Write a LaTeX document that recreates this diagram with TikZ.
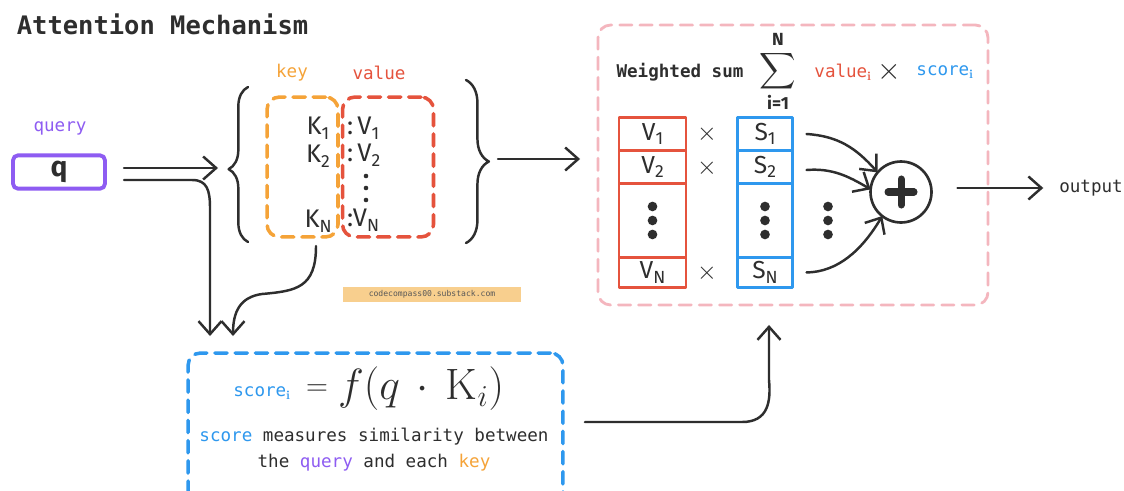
\documentclass[tikz,border=0pt]{standalone}
\usepackage{amsmath}
\usepackage{fontspec}
\setmonofont{DejaVu Sans Mono}
\newfontfamily\handfont{Fira Sans}
\usetikzlibrary{arrows.meta,positioning,calc,decorations.pathreplacing}

\definecolor{qpurple}{HTML}{8E5CF2}
\definecolor{kyorange}{HTML}{F5A338}
\definecolor{valred}{HTML}{E5533D}
\definecolor{scblue}{HTML}{2E98EE}
\definecolor{pnlpink}{HTML}{F4B6BE}
\definecolor{inkgray}{HTML}{2E2E2E}
\definecolor{markfill}{HTML}{F8CF8E}

\newcommand{\hsub}[2]{#1\raisebox{-0.35ex}{\fontsize{10}{12}\selectfont #2}}

\begin{document}
\begin{tikzpicture}[x=0.02cm,y=-0.02cm, line cap=round, line join=round,
                    every node/.style={outer sep=0pt}]

  \tikzset{
    lbl/.style={font=\ttfamily\fontsize{10}{12}\selectfont, inner sep=0pt},
    hand/.style={font=\handfont\fontsize{14.5}{16}\selectfont, inner sep=0pt, text=inkgray},
    ink/.style={line width=1.4pt, draw=inkgray},
    arr/.style={ink, -{Straight Barb[length=2.6mm,width=4.6mm,line width=1.4pt]}},
    dashbox/.style={rounded corners=2.5mm, line width=2pt, dash pattern=on 7pt off 4.5pt},
    vcell/.style={draw=valred, line width=1.3pt, minimum width=1.34cm, inner sep=0pt,
                  font=\handfont\fontsize{14}{16}\selectfont, text=inkgray},
    scell/.style={vcell, draw=scblue, minimum width=1.1cm},
    bigdot/.style={circle, fill=inkgray, minimum size=5.5pt, inner sep=0pt},
    times/.style={font=\handfont\fontsize{14}{16}\selectfont, inner sep=0pt, text=inkgray},
    limit/.style={font=\handfont\bfseries\fontsize{10}{12}\selectfont, inner sep=0pt, text=inkgray}
  }

  \clip (0,0) rectangle (1124,490);
  \fill[white] (0,0) rectangle (1124,490);

  % title
  \node[anchor=west, font=\ttfamily\bfseries\fontsize{14.5}{18}\selectfont, text=inkgray]
    (title) at (11,24) {Attention Mechanism};

  % query
  \node[lbl, text=qpurple] (qlabel) at (60,128) {query};
  \node[draw=qpurple, line width=2.2pt, rounded corners=1mm, minimum width=1.84cm,
        minimum height=0.64cm, font=\handfont\bfseries\fontsize{16}{18}\selectfont,
        text=inkgray] (qbox) at (59,172) {q};

  % key / value dictionary
  \node[lbl, text=kyorange] (keylbl) at (292,73) {key};
  \node[lbl, text=valred] (vallbl) at (379,73) {value};
  \node[dashbox, draw=kyorange, minimum width=1.42cm, minimum height=2.8cm] (keybox) at (302.5,167) {};
  \node[dashbox, draw=valred, minimum width=1.82cm, minimum height=2.8cm] (valbox) at (388,167) {};

  \node[hand] (k1) at (318,128) {\hsub{K}{1}};
  \node[hand] (k2) at (318,156) {\hsub{K}{2}};
  \node[hand] (kN) at (318,221) {\hsub{K}{N}};
  \node[hand, anchor=west] (v1) at (347,128) {:\,\hsub{V}{1}};
  \node[hand, anchor=west] (v2) at (347,155) {:\,\hsub{V}{2}};
  \node[hand, anchor=west] (vN) at (347,220) {:\hsub{V}{N}};
  \foreach \yy in {176,188,200} \node[circle, fill=inkgray, minimum size=2.6pt, inner sep=0pt] at (366,\yy) {};

  \coordinate (lbrtop) at (248,87);
  \coordinate (lbrbot) at (248,242);
  \coordinate (rbrtop) at (466,80);
  \coordinate (rbrbot) at (466,243);
  \draw[ink, decorate, decoration={brace, amplitude=11pt, aspect=0.47}] (lbrbot) -- (lbrtop);
  \draw[ink, decorate, decoration={brace, amplitude=13pt, aspect=0.5}] (rbrtop) -- (rbrbot);

  % watermark
  \node[fill=markfill, minimum width=3.56cm, minimum height=0.3cm, inner sep=0pt,
        font=\ttfamily\fontsize{4.6}{5}\selectfont, text=inkgray!80] (mark) at (432,294)
        {codecompass00.substack.com};

  % weighted sum panel
  \node[dashbox, draw=pnlpink, line width=1.6pt, minimum width=7.8cm, minimum height=5.6cm] (panel) at (793,165) {};
  \node[lbl, text=inkgray, font=\ttfamily\bfseries\fontsize{10}{12}\selectfont] (wsum) at (680,72) {Weighted sum};
  \node[inner sep=0pt, text=inkgray, font=\fontsize{15}{17}\selectfont] (sigma) at (778,78)
        {$\displaystyle\smash{\sum}$};
  \node[limit] (supN) at (778,39) {N};
  \node[limit] (subi) at (778,102) {i=1};
  \node[lbl, text=valred] (vali) at (843,72) {value$_{\mathbf{i}}$};
  \node[times, font=\handfont\bfseries\fontsize{16}{18}\selectfont] (mul) at (889,72) {$\times$};
  \node[lbl, text=scblue] (scorei) at (945,72) {score$_{\mathbf{i}}$};

  % value column
  \node[vcell, minimum height=0.66cm] (c1) at (652.5,134) {\hsub{V}{1}};
  \node[vcell, minimum height=0.66cm, below=0pt of c1] (c2) {\hsub{V}{2}};
  \node[vcell, minimum height=1.48cm, below=0pt of c2] (cdots) {};
  \node[vcell, minimum height=0.6cm, below=0pt of cdots] (cN) {\hsub{V}{N}};
  % score column
  \node[scell, minimum height=0.66cm] (s1) at (765,134) {\hsub{S}{1}};
  \node[scell, minimum height=0.66cm, below=0pt of s1] (s2) {\hsub{S}{2}};
  \node[scell, minimum height=1.48cm, below=0pt of s2] (sdots) {};
  \node[scell, minimum height=0.6cm, below=0pt of sdots] (sN) {\hsub{S}{N}};

  \foreach \d in {-14,0,14} {
    \node[bigdot] at ($(cdots.center)+(0,\d)$) {};
    \node[bigdot] at ($(sdots.center)+(0,\d)$) {};
    \node[bigdot] at ($(sdots.center)+(63,\d)$) {};
  }
  \node[times] (x1) at (707,134) {$\times$};
  \node[times] (x2) at (707,168) {$\times$};
  \node[times] (xN) at (707,273) {$\times$};

  % summation node
  \node[circle, draw=inkgray, line width=1.5pt, minimum size=1.22cm, inner sep=0pt] (plus) at (901,192) {};
  \draw[line width=4pt, draw=inkgray, line cap=round] ($(plus.center)+(-13,0)$) -- ($(plus.center)+(13,0)$);
  \draw[line width=4pt, draw=inkgray, line cap=round] ($(plus.center)+(0,-13)$) -- ($(plus.center)+(0,13)$);

  \draw[arr] ($(s1.east)+(14,0)$) .. controls (838,136) and (856,148) .. (plus.140);
  \draw[arr] ($(s2.east)+(14,3)$) .. controls (832,168) and (848,176) .. (plus.175);
  \draw[arr] ($(sN.east)+(14,0)$) .. controls (838,272) and (862,250) .. (plus.232);

  \node[lbl, text=inkgray] (outlbl) at (1091,188) {output};
  \draw[arr] ($(plus.east)+(26,-4)$) -- ($(outlbl.west)+(-16,0)$);

  % score box
  \node[dashbox, draw=scblue, minimum width=7.5cm, minimum height=3.8cm, anchor=north] (scorebox) at (375.5,353) {};
  \node[lbl, text=scblue] (scl) at (262,393) {score$_{\mathbf{i}}$};
  \node[inner sep=0pt, text=inkgray, font=\fontsize{18}{20}\selectfont] (eq) at (317,390) {$=$};
  \node[inner sep=0pt, text=inkgray, font=\fontsize{25}{28}\selectfont, anchor=west] (fq) at (338,389) {$f(q\,\cdot\,\mathrm{K}_{i})$};
  \node[lbl, text=inkgray] (ln1) at (374,437)
    {\textcolor{scblue}{score} measures similarity between};
  \node[lbl, text=inkgray] (ln2) at (374,463)
    {the \textcolor{qpurple}{query} and each \textcolor{kyorange}{key}};

  % connectors
  \coordinate (lbrtip) at (218,168);
  \coordinate (rbrtip) at (498,159);
  \draw[arr] ($(qbox.east)+(19,-4)$) -- (lbrtip);
  \draw[arr] ($(qbox.east)+(19,8)$) -- (192,180) .. controls (207,180) and (210,190) .. (210,208)
             -- ($(scorebox.north -| 210,0)+(0,-17)$);
  \draw[arr] ($(kN.south)+(-2,14)$) .. controls (316,288) and (296,291) .. (262,294)
             .. controls (240,297) and (233,312) .. ($(scorebox.north -| 233,0)+(0,-17)$);
  \draw[arr] (rbrtip) -- ($(panel.west |- rbrtip)+(-18,0)$);
  \draw[arr] ($(scorebox.east |- 0,422)+(22,0)$) -- (742,422)
             .. controls (768,422) and (771,402) .. (769,380) -- ($(panel.south -| 769,0)+(0,20)$);
\end{tikzpicture}
\end{document}
